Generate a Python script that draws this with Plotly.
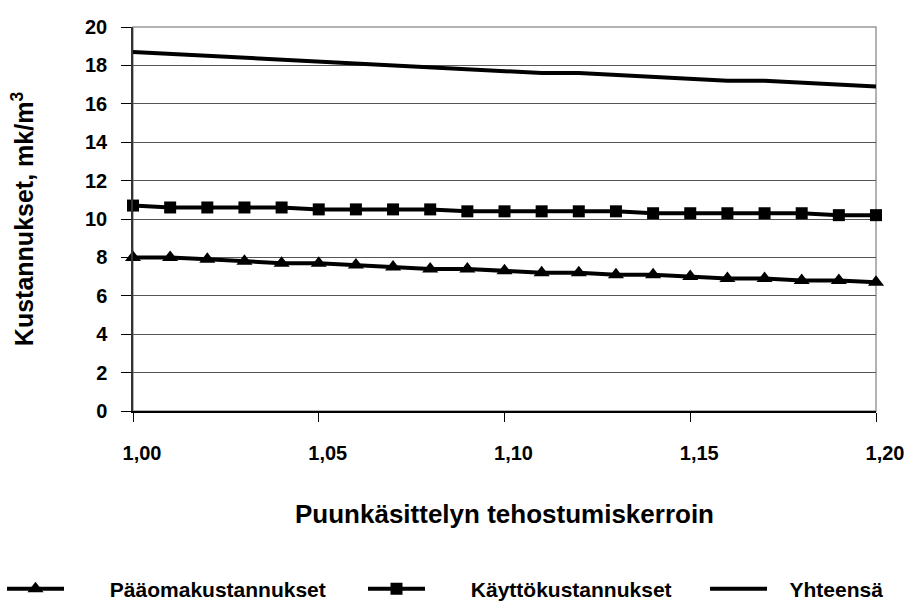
import plotly.graph_objects as go

kerroin = [1.00, 1.01, 1.02, 1.03, 1.04, 1.05, 1.06, 1.07, 1.08, 1.09, 1.10,
           1.11, 1.12, 1.13, 1.14, 1.15, 1.16, 1.17, 1.18, 1.19, 1.20]
paaomakustannukset = [8.0, 8.0, 7.9, 7.8, 7.7, 7.7, 7.6, 7.5, 7.4, 7.4, 7.3,
                      7.2, 7.2, 7.1, 7.1, 7.0, 6.9, 6.9, 6.8, 6.8, 6.7]
kayttokustannukset = [10.7, 10.6, 10.6, 10.6, 10.6, 10.5, 10.5, 10.5, 10.5, 10.4, 10.4,
                      10.4, 10.4, 10.4, 10.3, 10.3, 10.3, 10.3, 10.3, 10.2, 10.2]
yhteensa = [18.7, 18.6, 18.5, 18.4, 18.3, 18.2, 18.1, 18.0, 17.9, 17.8, 17.7,
            17.6, 17.6, 17.5, 17.4, 17.3, 17.2, 17.2, 17.1, 17.0, 16.9]
series_names = ["Pääomakustannukset", "Käyttökustannukset", "Yhteensä"]
x_ticks = [1.00, 1.05, 1.10, 1.15, 1.20]
y_ticks = [0, 2, 4, 6, 8, 10, 12, 14, 16, 18, 20]

FONT = "Liberation Sans, Arial, sans-serif"
NB = "\u00a0"

fig = go.Figure()
fig.add_trace(go.Scatter(
    x=kerroin, y=paaomakustannukset, name=NB * 7 + series_names[0],
    mode="lines+markers", line=dict(color="black", width=4),
    marker=dict(symbol="triangle-up", size=14, color="black"),
    cliponaxis=False, legend="legend"))
fig.add_trace(go.Scatter(
    x=kerroin, y=kayttokustannukset, name=NB * 7 + series_names[1],
    mode="lines+markers", line=dict(color="black", width=4),
    marker=dict(symbol="square", size=12, color="black"),
    cliponaxis=False, legend="legend2"))
fig.add_trace(go.Scatter(
    x=kerroin, y=yhteensa, name=NB * 3 + series_names[2],
    mode="lines", line=dict(color="black", width=4),
    cliponaxis=False, legend="legend3"))

fig.add_shape(type="rect", xref="x domain", yref="y domain",
              x0=0, x1=1, y0=0, y1=1,
              line=dict(color="#999999", width=1.5), layer="below")

leg_common = dict(
    orientation="h", xref="container", yref="container",
    y=1 - 589 / 603, xanchor="left", yanchor="middle", itemwidth=57,
    font=dict(family=FONT, size=21, color="black", weight="bold"),
    bgcolor="rgba(0,0,0,0)",
)

fig.update_layout(
    width=909, height=603,
    margin=dict(l=133, r=33, t=27, b=192),
    paper_bgcolor="white", plot_bgcolor="white",
    separators=",.",
    font=dict(family=FONT, color="black", size=15, weight="bold"),
    showlegend=True,
    legend=dict(x=2 / 909, **leg_common),
    legend2=dict(x=363 / 909, **leg_common),
    legend3=dict(x=705 / 909, **leg_common),
)

fig.update_xaxes(
    range=[1.0, 1.2], tickvals=x_ticks, tickformat=".2f", automargin=False,
    ticks="outside", ticklen=9, tickcolor="black", tickwidth=1,
    showline=True, linecolor="black", linewidth=1.5,
    showgrid=False, zeroline=False,
    ticklabelshift=9, ticklabelstandoff=14,
    tickfont=dict(family=FONT, size=20, weight="bold"),
    title=dict(text="Puunkäsittelyn tehostumiskerroin", standoff=42,
               font=dict(family=FONT, size=26, weight="bold")),
)
fig.update_yaxes(
    range=[0, 20], tickvals=y_ticks, automargin=False,
    ticks="outside", ticklen=10, tickcolor="black", tickwidth=1,
    showline=True, linecolor="#333333", linewidth=1.5,
    showgrid=True, gridcolor="#555555", gridwidth=1,
    zeroline=False, ticklabelstandoff=10,
    tickfont=dict(family=FONT, size=20, weight="bold"),
    title=dict(text="Kustannukset, mk/m<sup>3</sup>", standoff=44,
               font=dict(family=FONT, size=25, weight="bold")),
)

fig.write_html("out.html")
